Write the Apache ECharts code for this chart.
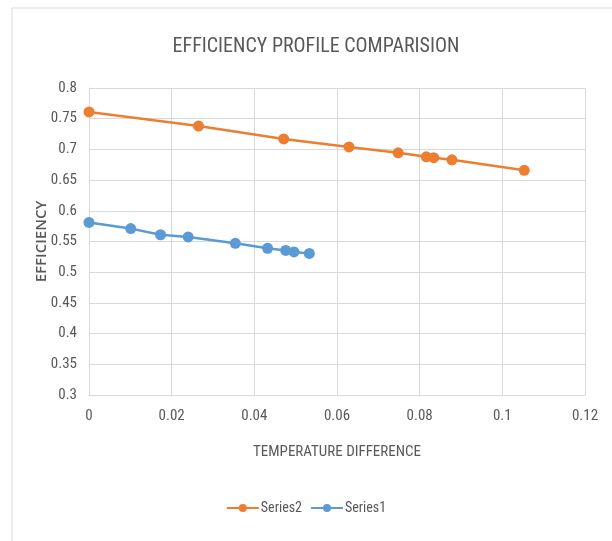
<!DOCTYPE html>
<html><head><meta charset="utf-8">
<script src="https://cdn.jsdelivr.net/npm/echarts@6/dist/echarts.min.js"></script>
<style>html,body{margin:0;padding:0;background:#fff}#c{width:612px;height:541px}</style>
</head><body><div id="c"></div>
<script>
const series2X = [0, 0.0265, 0.0471, 0.0629, 0.0748, 0.0816, 0.0834, 0.0878, 0.1053];
const series2Y = [0.761, 0.738, 0.717, 0.704, 0.6945, 0.688, 0.6865, 0.683, 0.666];
const series1X = [0, 0.0101, 0.0173, 0.024, 0.0354, 0.0432, 0.0476, 0.0496, 0.0533];
const series1Y = [0.581, 0.571, 0.561, 0.5575, 0.547, 0.539, 0.5355, 0.533, 0.5305];
const seriesNames = ['Series2', 'Series1'];
const titleText = 'EFFICIENCY PROFILE COMPARISION';
const xTitle = 'TEMPERATURE DIFFERENCE';
const yTitle = 'EFFICIENCY';

const FONT = '"Liberation Sans Narrow", "Roboto Condensed", Roboto, sans-serif';
const pairs = (xs, ys) => xs.map((x, i) => [x, ys[i]]);
const chart = echarts.init(document.getElementById('c'));
chart.setOption({
  animation: false,
  graphic: [{type: 'rect', shape: {x: 12, y: 8, width: 620, height: 560}, style: {fill: 'none', stroke: '#d9d9d9', lineWidth: 1}, silent: true}],
  title: {text: titleText, left: 311, top: 32, textAlign: 'center',
    textStyle: {fontFamily: FONT, fontSize: 20, fontWeight: 'normal', color: '#595959'}},
  grid: {left: 89, right: 27, top: 88, bottom: 146, containLabel: false},
  xAxis: {type: 'value', min: 0, max: 0.12, interval: 0.02,
    name: xTitle, nameLocation: 'middle', nameGap: 50,
    nameTextStyle: {fontFamily: FONT, fontSize: 15, color: '#595959'},
    axisLine: {show: true, lineStyle: {color: '#d9d9d9'}}, axisTick: {show: false},
    axisLabel: {fontFamily: FONT, fontSize: 15, color: '#595959', margin: 14},
    splitLine: {show: true, lineStyle: {color: '#d9d9d9'}}},
  yAxis: {type: 'value', min: 0.3, max: 0.8, interval: 0.05,
    name: yTitle, nameLocation: 'middle', nameGap: 40, nameMoveOverlap: false,
    nameTextStyle: {fontFamily: '"Open Sans", sans-serif', fontSize: 15, fontWeight: 600, color: '#595959'},
    axisLine: {show: true, lineStyle: {color: '#d9d9d9'}}, axisTick: {show: false},
    axisLabel: {fontFamily: FONT, fontSize: 15, color: '#595959', margin: 12,
      formatter: v => String(Math.round(v * 100) / 100)},
    splitLine: {show: true, lineStyle: {color: '#d9d9d9'}}},
  legend: {bottom: 21, left: 'center', itemGap: 8, itemWidth: 32, itemHeight: 10,
    textStyle: {fontFamily: FONT, fontSize: 14, color: '#595959', padding: [0, 0, 0, -3]},
    data: seriesNames},
  series: [
    {name: seriesNames[0], type: 'line', data: pairs(series2X, series2Y), symbol: 'circle', symbolSize: 11,
      itemStyle: {color: '#ED7D31'}, lineStyle: {color: '#ED7D31', width: 2.5}},
    {name: seriesNames[1], type: 'line', data: pairs(series1X, series1Y), symbol: 'circle', symbolSize: 11,
      itemStyle: {color: '#5B9BD5'}, lineStyle: {color: '#5B9BD5', width: 2.5}}
  ]
});
</script></body></html>
